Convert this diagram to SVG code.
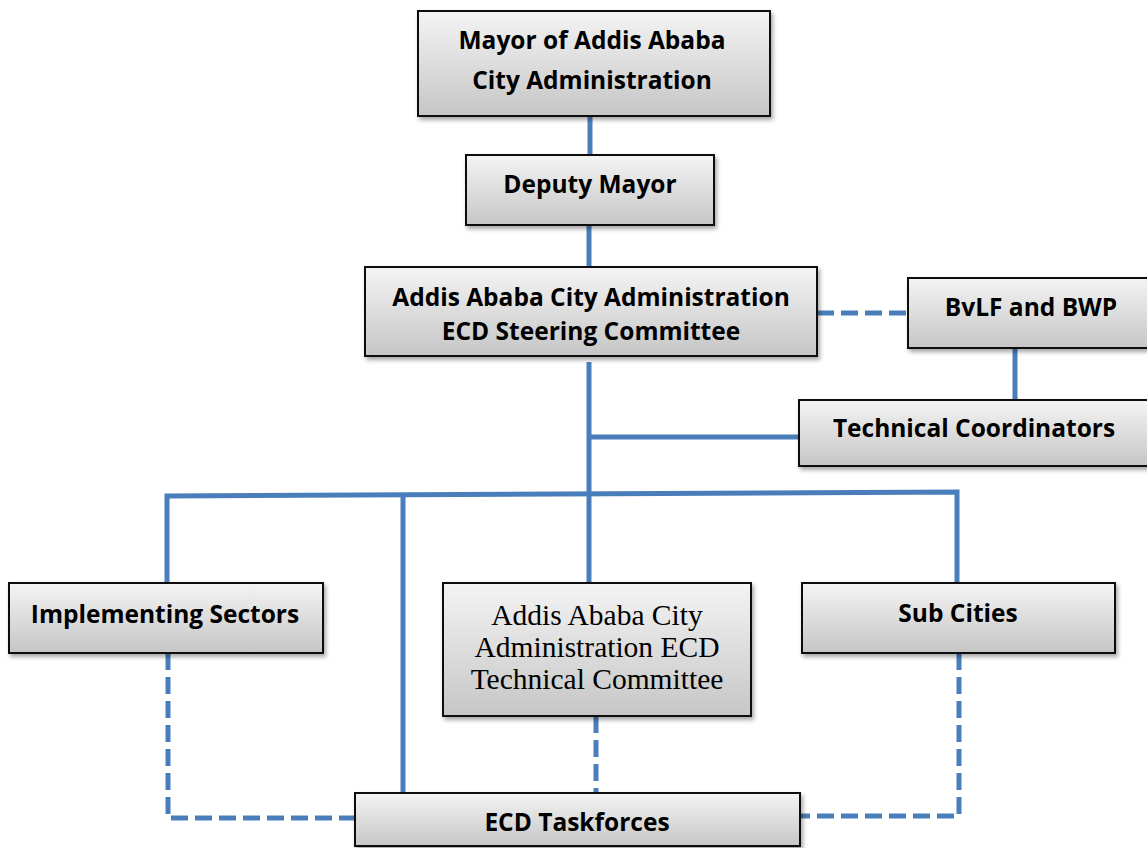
<svg xmlns="http://www.w3.org/2000/svg" width="1147" height="848" viewBox="0 0 1147 848">
  <defs>
    <linearGradient id="boxFill" x1="0" y1="0" x2="0" y2="1">
      <stop offset="0" stop-color="#f4f4f4"/>
      <stop offset="1" stop-color="#c6c6c6"/>
    </linearGradient>
    <filter id="shadow" x="-10%" y="-10%" width="125%" height="140%">
      <feDropShadow dx="2" dy="3" stdDeviation="2.2" flood-color="#000" flood-opacity="0.35"/>
    </filter>
  </defs>
  <style>
    .box { fill: url(#boxFill); stroke: #111; stroke-width: 2; filter: url(#shadow); }
    .lbl { font-family: "Open Sans", "Liberation Sans", sans-serif; font-weight: bold; font-size: 24.5px; fill: #000; text-anchor: middle; }
    .serif { font-family: "Liberation Serif", "Times New Roman", serif; font-size: 29.5px; fill: #000; text-anchor: middle; }
    .solid { fill: none; stroke: #4a7ebb; stroke-width: 5; }
    .dash { fill: none; stroke: #4a7ebb; stroke-width: 5; stroke-dasharray: 17 7; }
  </style>

  <!-- connectors -->
  <g id="connectors">
    <line class="solid" x1="590" y1="116" x2="590" y2="155"/>
    <line class="solid" x1="589" y1="225" x2="589" y2="267"/>
    <line class="dash" x1="817" y1="313" x2="908" y2="313" stroke-dasharray="16 7"/>
    <line class="solid" x1="1015" y1="348" x2="1015" y2="400"/>
    <line class="solid" x1="589" y1="362" x2="589" y2="583"/>
    <line class="solid" x1="589" y1="437" x2="799" y2="437"/>
    <polyline class="solid" points="167,585 167,496 957,492 957,583"/>
    <line class="solid" x1="403" y1="495" x2="403" y2="793"/>
    <line class="dash" x1="596" y1="716" x2="596" y2="793" stroke-dasharray="14 7"/>
    <polyline class="dash" points="168,653 168,818 355,818"/>
    <polyline class="dash" points="959,653 959,816 800,816"/>
  </g>

  <g id="mayor">
    <rect class="box" x="418" y="11" width="352" height="105"/>
    <text class="lbl" x="592" y="49">Mayor of Addis Ababa</text>
    <text class="lbl" x="592" y="89">City Administration</text>
  </g>

  <g id="deputy-mayor">
    <rect class="box" x="466" y="155" width="248" height="70"/>
    <text class="lbl" x="590" y="193">Deputy Mayor</text>
  </g>

  <g id="steering-committee">
    <rect class="box" x="365" y="267" width="452" height="89"/>
    <text class="lbl" x="591" y="306">Addis Ababa City Administration</text>
    <text class="lbl" x="591" y="340">ECD Steering Committee</text>
  </g>

  <g id="bvlf-bwp">
    <rect class="box" x="908" y="278" width="250" height="70"/>
    <text class="lbl" x="1031" y="316">BvLF and BWP</text>
  </g>

  <g id="technical-coordinators">
    <rect class="box" x="799" y="400" width="360" height="66"/>
    <text class="lbl" x="974" y="437">Technical Coordinators</text>
  </g>

  <g id="implementing-sectors">
    <rect class="box" x="9" y="583" width="314" height="70"/>
    <text class="lbl" x="165" y="623">Implementing Sectors</text>
  </g>

  <g id="technical-committee">
    <rect class="box" x="443" y="583" width="308" height="133"/>
    <text class="serif" x="597" y="625">Addis Ababa City</text>
    <text class="serif" x="597" y="657">Administration ECD</text>
    <text class="serif" x="597" y="689">Technical Committee</text>
  </g>

  <g id="sub-cities">
    <rect class="box" x="802" y="583" width="313" height="70"/>
    <text class="lbl" x="958" y="622">Sub Cities</text>
  </g>

  <g id="ecd-taskforces">
    <rect class="box" x="355" y="793" width="445" height="53"/>
    <text class="lbl" x="577" y="831">ECD Taskforces</text>
  </g>
</svg>
